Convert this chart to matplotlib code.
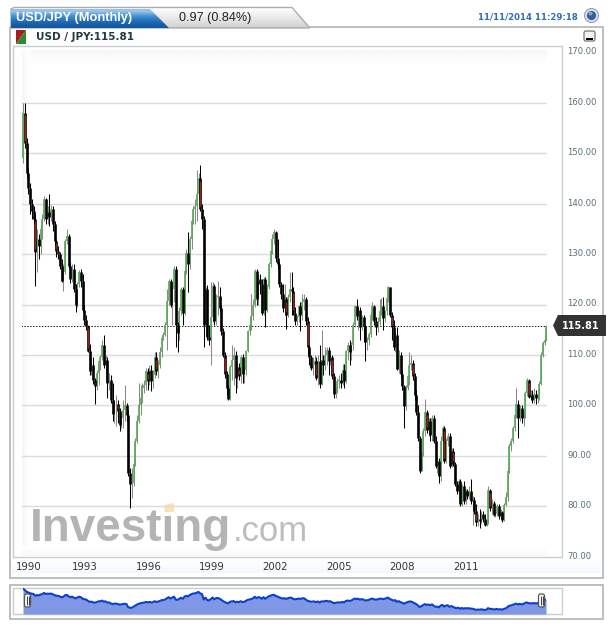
import matplotlib
matplotlib.use('Agg')
import matplotlib.pyplot as plt
import matplotlib.transforms as mtrans
import numpy as np
from matplotlib.patches import Polygon, Rectangle, FancyBboxPatch, Circle

# monthly usd/jpy
first_open = 149
closes = [
    158, 152, 146, 143, 140, 138.5, 137, 130.5, 133, 131.5,
    135, 137, 141, 137, 138.4, 137.4, 139, 136, 132.6, 130.6,
    130, 127.7, 124.7, 126.5, 132.6, 133.6, 127.7, 125, 127, 123,
    120, 124, 126.5, 124.7, 119, 117, 115.8, 110.8, 106.8, 108,
    105, 103.8, 106.5, 108.8, 109.5, 112, 108, 109, 104.5, 105,
    101, 98.2, 100.2, 100.3, 98.9, 96.2, 97.5, 99, 100, 98,
    86.5, 84.4, 84.6, 88.4, 93, 96.9, 100, 101.5, 103.5, 104,
    106.8, 104.8, 107, 104.8, 106, 109.5, 106.8, 108, 110.5, 113.4,
    114, 116, 120.7, 124.7, 120, 123, 127, 116, 114.3, 118.7,
    123, 118.4, 126.7, 130.3, 128, 133, 136.6, 139, 139.5, 142,
    145, 139, 137, 116, 123, 113.5, 113, 117.5, 123.7, 116.8,
    121.4, 121.6, 119.4, 114.8, 109.9, 106.3, 103.5, 101.2, 107.6, 109,
    110, 105.5, 107.6, 105.8, 109.5, 106.2, 107, 110.8, 114.8, 116,
    117.7, 120, 126.7, 121, 125, 124, 118.4, 125, 119, 123.4,
    128, 130.7, 133, 134.3, 129.3, 128, 124, 122, 119.4, 121,
    118, 121.4, 123, 122.7, 118.4, 116.8, 117.5, 119.7, 118, 120.4,
    121, 116.8, 111.5, 109.5, 107.5, 108, 108.7, 105.5, 108.8, 104.2,
    109, 108, 110, 111, 108.8, 109.5, 105.8, 102.2, 103, 104.8,
    105, 104.5, 107, 104.8, 110.8, 112, 110.5, 112, 116, 119.7,
    117.7, 119, 115.5, 117.6, 115.7, 112.5, 113, 114.1, 118, 119.7,
    116.8, 115.6, 116.5, 118.7, 119.7, 117.4, 118.7, 121.2, 123.4, 118,
    115.5, 111.5, 114, 107.2, 110, 106.2, 103.8, 99.9, 103.5, 105.8,
    108.1, 108.5, 105.8, 102, 98.6, 93.6, 87, 90.5, 95, 98.6,
    95.2, 96.9, 94.2, 97.5, 93, 88, 89, 86, 93, 95.5,
    89, 93, 94, 88, 91, 88.4, 84.5, 83, 85, 80.5,
    84, 81, 83, 82, 83, 81, 81.2, 79, 76.8, 77.5,
    77, 78.5, 77.5, 76.2, 76.8, 83.2, 79.6, 80.6, 78.3, 78.5,
    80, 78, 78.9, 77.3, 80.3, 81.9, 86.9, 91.9, 93, 95.6,
    98, 100.2, 97.5, 99.5, 97.4, 98.7, 102.4, 105, 101.7, 102,
    101, 102.3, 101.4, 101.5, 104.3, 110, 112.4, 112.9, 115.81,
]
highs = [
    160, 160, 153, 147, 144, 141, 139.5, 138, 135, 134,
    136, 138, 141.5, 141.2, 139.5, 142, 139.8, 139.5, 136.6, 133,
    131.5, 130.5, 129, 128, 133, 135, 134, 128.5, 128, 128,
    124, 124.5, 126.8, 127, 126, 120, 118, 116, 112.2, 109.5,
    109.5, 105.5, 107, 109, 110, 113, 114, 110, 109.5, 106.5,
    106, 104.5, 101, 102, 101, 99.5, 98, 101, 104, 100.5,
    99, 87.5, 87.6, 89, 93.5, 98, 104.5, 104, 104.5, 105,
    107.5, 107.5, 108, 108, 107, 110.5, 110.5, 109, 111.5, 114,
    114.5, 116.5, 123, 125, 125, 124, 127.7, 127.7, 116.5, 119.5,
    123.5, 123.5, 127, 131, 134.3, 133.5, 137, 139.5, 141, 146.6,
    146, 147.6, 140, 137.5, 123.5, 123.8, 116, 124.5, 124.5, 124,
    122, 124.7, 123.5, 120, 115.3, 110.5, 106.8, 104, 108, 112,
    111.5, 110.8, 108.5, 108.5, 110, 110.2, 108, 111, 115, 117.5,
    122, 121, 127, 127, 125.8, 126, 125, 125.5, 125.5, 124,
    128.5, 131, 134, 135, 134.5, 133, 128.5, 124.5, 124, 124,
    121.5, 122, 126.5, 126.5, 123.5, 119.5, 118, 120, 120.5, 122,
    122, 121.5, 117.5, 112, 110, 109.5, 110, 109.5, 110, 112,
    115, 110, 111.5, 111.5, 111.5, 110, 110, 106.5, 104, 105.5,
    106, 106.5, 108.3, 108.3, 111, 112.5, 113, 112.5, 116.5, 120,
    121.1, 119.5, 119.5, 118, 118, 116, 113.5, 114.5, 118.5, 120.5,
    120, 117.5, 117.5, 121, 121.2, 121.5, 119, 122, 123.7, 123.5,
    118.5, 117, 114.5, 115.5, 111, 110.5, 107, 104, 104, 106,
    110.5, 110, 109, 106.5, 103, 100, 94, 91, 95.5, 101.2,
    99, 97.5, 97.5, 98, 98, 94, 90, 89.5, 94, 96,
    96, 93.5, 94.5, 94.5, 91.5, 91.5, 88.8, 85, 85.5, 85.5,
    84.5, 85, 83.5, 83.5, 84, 85.5, 82, 81.8, 80.5, 78.5,
    79.5, 79, 79, 78.5, 77.5, 84.1, 83.5, 81.5, 81, 79,
    80.5, 80.4, 79.5, 79, 80.7, 82.8, 87.5, 92.5, 93.5, 96,
    98.5, 103.5, 101, 100, 100, 99, 102.8, 105.5, 105.3, 103,
    103, 103.5, 103, 102.5, 104.8, 110.5, 112.8, 113.5, 116,
]
lows = [
    148, 151, 145, 142, 138, 137, 136, 123.7, 126.4, 129,
    130, 133, 136.5, 136, 136, 135.5, 136.5, 134.5, 131.5, 129.5,
    129, 127, 124.5, 122.7, 126, 132, 127.3, 124.3, 124.5, 122.5,
    118.6, 119.5, 123.5, 123.5, 118.5, 116, 115, 110.5, 106, 106,
    104.3, 100.2, 103, 104, 107, 109, 107.5, 105, 101.5, 103,
    100.5, 97, 96.5, 96, 96.5, 95, 95.5, 95.5, 97, 97,
    86, 79.7, 81.7, 84, 88, 92.5, 96.5, 98, 100.5, 102.5,
    103, 103, 104, 102.8, 103.5, 105.5, 106, 105.5, 107.5, 109.5,
    113, 113.8, 111, 120, 119.5, 116, 120.5, 111.5, 110.5, 113,
    118, 116, 118, 126, 122.4, 127, 131, 136, 136, 136.5,
    141, 138.5, 135, 111.5, 114, 113, 112, 108, 116.5, 116,
    116, 118, 118.8, 114, 109.5, 105.5, 102, 101, 101, 105,
    104, 102.5, 103.5, 105, 104.5, 104.5, 104.5, 106, 110.5, 114,
    115, 117, 119.5, 120, 120, 122, 118, 118, 115.5, 118.5,
    123, 127.5, 130, 132, 128.5, 127, 123.5, 121, 118.5, 118,
    115.2, 117.5, 120.5, 118, 118, 116, 116, 116.5, 114.7, 117,
    119, 116, 110.2, 108, 107, 106, 106, 105, 104, 103.5,
    104, 106, 107, 108, 106, 108, 105.3, 101.5, 101.5, 102.5,
    103.5, 103.5, 104, 103.5, 104.5, 109, 108, 109, 111, 115.5,
    117, 115, 113, 115, 112.5, 108.8, 111, 112, 113.5, 117,
    116, 114, 114.5, 116, 118, 115, 116.5, 118, 120.5, 117.5,
    113, 111, 110.5, 107, 106.5, 105.5, 103, 95.6, 99, 103,
    104, 107, 105, 101, 98, 93, 86.5, 87, 90, 94,
    94.5, 94, 93, 93, 92.5, 87.5, 86.5, 84.7, 85, 92.5,
    88.5, 88.5, 92, 87.5, 87.8, 88, 84, 82.5, 82.5, 80,
    80, 80.5, 80.5, 81.5, 81.5, 80.5, 76.2, 78.5, 76, 76,
    75.6, 76.5, 76.8, 76, 76, 76.5, 79, 78.5, 78, 77.8,
    78, 77.5, 77.5, 76.8, 77, 80, 81, 86.5, 91, 92.5,
    95, 97.5, 93.5, 97, 96.5, 96, 97.5, 101.8, 101.5, 101,
    100.5, 100.5, 100.3, 100.5, 101, 104, 109.5, 112, 112.8,
]
# candles that show a red centre
red_months = [1, 7, 15, 19, 20, 37, 41, 54, 71, 76, 101, 115, 123, 150, 154,
              162, 167, 176, 201, 210, 222, 230, 240, 245, 258, 266, 288]

year_labels = ['1990', '1993', '1996', '1999', '2002', '2005', '2008', '2011']
year_months = [3, 35, 71.5, 107.5, 143.5, 180, 216, 252]
price_ticks = [70, 80, 90, 100, 110, 120, 130, 140, 150, 160, 170]
grid_levels = [80, 90, 100, 110, 120, 130, 140, 150, 160]
last_price = 115.81

W, H = 613, 627
DARK = '#1f3b46'
AXIS_TXT = '#5b6f77'
FRAME = '#a9adad'
LINE = '#c8cccc'
SANS = 'Liberation Sans'

closes = np.array(closes)
highs = np.array(highs)
lows = np.array(lows)
opens = np.r_[first_open, closes[:-1]]
months = np.arange(len(closes))
up = closes >= opens


def px_axes(x0, y0, x1, y1, **kw):
    return fig.add_axes([x0 / W, 1 - y1 / H, (x1 - x0) / W, (y1 - y0) / H], **kw)


def gradient(ax, arr, extent, clip=None):
    im = ax.imshow(arr, extent=extent, aspect='auto', cmap='gray', vmin=0, vmax=1,
                   zorder=1, interpolation='bilinear')
    if clip is not None:
        im.set_clip_path(clip)
    return im


fig = plt.figure(figsize=(W / 100, H / 100), dpi=100, facecolor='white')

# page furniture, drawn in pixel coordinates
bg = fig.add_axes([0, 0, 1, 1])
bg.set_axis_off()

# frames
bg.add_patch(Rectangle((10, 27), 592.5, 551, fc='white', ec=FRAME, lw=1.1, zorder=0.5))
bg.add_patch(Rectangle((10, 585), 592.5, 33.5, fc='white', ec=FRAME, lw=1.1, zorder=0.5))
bg.add_patch(Rectangle((12.5, 45.5), 549, 511.5, fc='none', ec=LINE, lw=1, zorder=3))
bg.add_patch(Rectangle((12.5, 588), 549, 26, fc='none', ec=LINE, lw=1, zorder=3))

# soft edges of the plot area
top_fade = np.linspace(0.965, 1, 16)[:, None]
gradient(bg, top_fade, (22, 547, 66, 50))
left_fade = np.linspace(0.965, 1, 8)[None, :]
gradient(bg, left_fade, (22, 30, 557, 50))
bot_fade = np.linspace(1, 0.975, 10)[:, None]
gradient(bg, bot_fade, (22, 547, 556, 546))

# band behind the years
band = np.linspace(1, 0.955, 16)[:, None]
blue_band = np.dstack([band, band + 0.015, np.minimum(band + 0.04, 1)])
bg.imshow(blue_band, extent=(12, 601, 573, 558), aspect='auto', zorder=1)

# tabs
grey_tab = Polygon([(11, 28), (11, 9), (14, 7.5), (292, 7.5), (309, 27), (309, 28)],
                   closed=True, fc='none', ec=FRAME, lw=1, zorder=2)
bg.add_patch(grey_tab)
grad_t = np.linspace(1, 0.82, 20)[:, None]
gradient(bg, grad_t, (11, 309, 28, 8), clip=grey_tab)
blue_tab = Polygon([(11, 28), (11, 9), (150, 9), (169, 28)], closed=True, fc='none', ec='none', zorder=2)
bg.add_patch(blue_tab)
blue_vals = np.array([[0.60, 0.76, 0.90], [0.27, 0.56, 0.82], [0.14, 0.43, 0.72], [0.08, 0.35, 0.64]])
im = bg.imshow(blue_vals[:, None, :], extent=(11, 169, 28, 9), aspect='auto', zorder=2,
               interpolation='bilinear')
im.set_clip_path(blue_tab)

bg.text(16, 17.5, 'USD/JPY (Monthly)', color='white', family=SANS, fontsize=9.3, weight='bold',
        va='center', zorder=5)
bg.text(179, 17.5, '0.97 (0.84%)', color='#222222', family=SANS, fontsize=9.1, va='center', zorder=5)
bg.text(578, 17.5, '11/11/2014 11:29:18', color='#2a6fb8', fontsize=6.1, weight='bold', ha='right',
        va='center', zorder=5)
bg.text(36, 36.5, 'USD / JPY:115.81', color=DARK, fontsize=7.5, weight='bold', va='center', zorder=5)

# blue ball top right
bg.add_patch(Circle((591.5, 15.5), 7, fc='#dfe3e8', ec='#9aa0a6', lw=0.8, zorder=4))
bg.add_patch(Circle((591.5, 15.5), 4.6, fc='#2f5f9f', ec='none', zorder=5))
bg.add_patch(Circle((590.5, 13.5), 2, fc='#7fa4d4', ec='none', zorder=6))

# minimise button
bg.add_patch(FancyBboxPatch((584, 31), 11, 10, boxstyle='round,pad=0,rounding_size=2',
                            fc='#f2f2f2', ec='#777777', lw=0.9, zorder=4))
bg.add_patch(Rectangle((586, 38), 7, 1.8, fc='black', ec='none', zorder=5))

# colour square in the legend row
bg.add_patch(Polygon([(16, 30), (26, 30), (16, 44)], closed=True, fc='#a5201f', ec='none', zorder=4))
bg.add_patch(Polygon([(26, 30), (26, 44), (16, 44)], closed=True, fc='#2e8b2e', ec='none', zorder=4))

# logo
bg.text(30, 541, 'Investing', color='#b4b4b4', family=SANS, fontsize=33, weight='bold', va='baseline', zorder=2)
bg.text(233, 541, '.com', color='#bdbdbd', family=SANS, fontsize=25, va='baseline', zorder=2)
bg.add_patch(Polygon([(165, 505), (174, 503), (174, 512), (165, 512)], closed=True,
                     fc='#fbe0b4', ec='none', zorder=3))

bg.set_xlim(0, W)
bg.set_ylim(H, 0)

# main chart
ax = px_axes(22, 52.3, 546.7, 556.7)
ax.patch.set_alpha(0)
ax.hlines(grid_levels, -1, 299, color='#dbdbdb', lw=1, zorder=1)
ax.hlines(last_price, -1, 299, color='#222222', lw=0.7, linestyle=(0, (1.5, 1.5)), zorder=1.5)

ax.vlines(months[up], lows[up], highs[up], color='#8a8a8a', lw=0.75, zorder=2)
ax.vlines(months[up], opens[up], closes[up], color='#5dab5d', lw=1.25, zorder=3)
ax.vlines(months[~up], lows[~up], highs[~up], color='black', lw=0.75, zorder=4)
ax.vlines(months[~up], opens[~up], closes[~up], color='black', lw=1.9, zorder=5)
ax.vlines(red_months, closes[red_months] + 0.5, opens[red_months] - 0.5, color='#a01c1c', lw=0.95, zorder=6)

ax.set_xlim(-0.57, 298.2)
ax.set_ylim(70, 170)
ax.set_xticks(year_months, year_labels, fontsize=7.3, color='#333333')
ax.tick_params(axis='x', length=0, pad=3.5)
ax.yaxis.tick_right()
ax.set_yticks(price_ticks, ['%.2f' % p for p in price_ticks], fontsize=6.1, color=AXIS_TXT)
ax.tick_params(axis='y', length=0, pad=15)
# the price labels sit a little above their grid lines
lift = mtrans.ScaledTranslation(0, 1.5 / 100, fig.dpi_scale_trans)
for lab in ax.get_yticklabels():
    lab.set_transform(lab.get_transform() + lift)
for s in ax.spines.values():
    s.set_visible(False)

# navigator strip
nav = px_axes(23, 588, 546, 614)
nav.patch.set_alpha(0)
nav.fill_between(months, 60.7, closes, color='#7f97e4', lw=0, zorder=1)
nav.plot(months, closes, color='#0b3fcc', lw=1.5, zorder=2)
nav.set_xlim(0, 298)
nav.set_ylim(60.7, 160)
nav.set_axis_off()

# things that sit on top of the charts: navigator handles and the price tag
over = fig.add_axes([0, 0, 1, 1], zorder=10)
over.set_axis_off()
over.patch.set_alpha(0)
for hx in (27.5, 541.5):
    over.add_patch(FancyBboxPatch((hx - 3, 594), 6, 13, boxstyle='round,pad=0,rounding_size=2',
                                  fc='white', ec='#555555', lw=0.9))
    over.vlines([hx - 1, hx + 1], 596, 605, color='#444444', lw=0.8)
over.add_patch(Polygon([(553, 325.5), (558, 315), (606, 315), (606, 336), (558, 336)], closed=True,
                       fc='#333333', ec='none'))
over.text(562, 325.7, '115.81', color='white', fontsize=7.0, weight='bold', va='center')
over.set_xlim(0, W)
over.set_ylim(H, 0)

fig.savefig('out.png', dpi=100)
